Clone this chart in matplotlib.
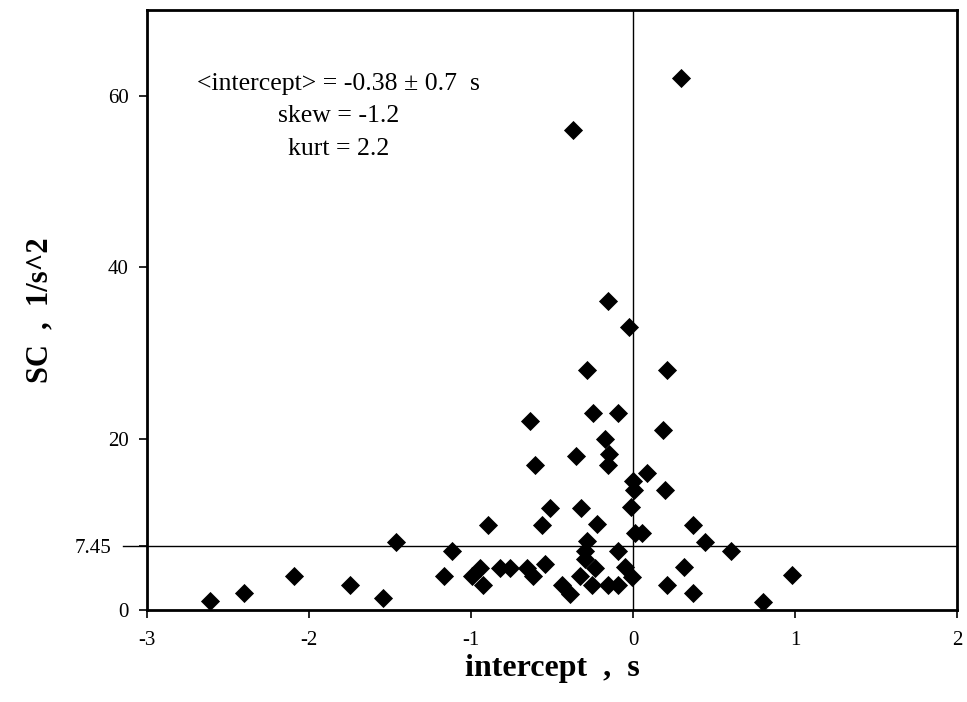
import matplotlib
matplotlib.use("Agg")
import matplotlib.pyplot as plt
from matplotlib.transforms import blended_transform_factory

# ---- data ----
intercept = [-2.61, -2.40, -2.09, -1.75, -1.545, -1.46, -1.165, -1.115, -0.995, -0.945,
             -0.925, -0.893, -0.82, -0.76, -0.655, -0.615, -0.543, -0.564, -0.512, -0.636,
             -0.603, -0.44, -0.39, -0.354, -0.33, -0.324, -0.37, -0.286, -0.296, -0.296,
             -0.286, -0.255, -0.235, -0.245, -0.224, -0.173, -0.146, -0.152, -0.152, -0.152,
             -0.095, -0.095, -0.095, -0.049, -0.025, -0.004, -0.012, 0.004, 0.002, 0.012,
             0.057, 0.085, 0.187, 0.198, 0.208, 0.208, 0.296, 0.315, 0.368, 0.368,
             0.444, 0.605, 0.80, 0.98]
sc = [1.0, 1.95, 4.0, 2.9, 1.45, 7.9, 4.0, 6.9, 4.0, 4.85,
      2.9, 9.9, 4.85, 4.85, 4.85, 4.0, 5.35, 9.9, 11.95, 22.05,
      16.95, 2.9, 1.85, 18.0, 3.95, 11.9, 56.0, 8.05, 6.9, 6.0,
      27.95, 2.9, 4.95, 22.95, 10.0, 20.0, 18.15, 16.95, 36.0, 2.9,
      2.9, 6.9, 22.95, 5.05, 33.0, 3.9, 12.0, 13.95, 15.05, 9.0,
      9.0, 16.0, 20.95, 14.0, 27.95, 2.9, 62.1, 5.05, 9.95, 1.95,
      7.9, 6.9, 0.9, 4.1]

xticks = [-3, -2, -1, 0, 1, 2]
yticks = [0, 7.45, 20, 40, 60]
ytick_labels = ["0", "7.45", "20", "40", "60"]
threshold_y = 7.45
stats_lines = ["<intercept> = -0.38 \u00b1 0.7  s", "skew = -1.2", "kurt = 2.2"]

plt.rcParams['font.family'] = ['Liberation Serif', 'DejaVu Serif']

fig = plt.figure(figsize=(9.67, 7.02), dpi=100)
ax = fig.add_axes([147/967, 92/702, 810/967, 600/702])

ax.scatter(intercept, sc, marker='D', s=95, color='black', zorder=3, linewidths=0)

ax.set_xlim(-3, 2)
ax.set_ylim(0, 70)

# reference lines
ax.axvline(0, color='black', lw=1.0, zorder=2)
trans = blended_transform_factory(ax.transAxes, ax.transData)
ax.plot([-0.030, 1.0], [threshold_y, threshold_y], color='black', lw=1.0,
        transform=trans, clip_on=False, zorder=2)

ax.set_xticks(xticks)
ax.set_xticklabels([str(v) for v in xticks])
ax.set_yticks(yticks)
ax.set_yticklabels(ytick_labels)
ax.tick_params(axis='both', direction='out', length=6, width=1.2, labelsize=15)
ax.tick_params(axis='y', pad=7)
ax.tick_params(axis='x', pad=9)
for t, v in zip(ax.yaxis.get_major_ticks(), yticks):
    if v == threshold_y:
        t.tick1line.set_markersize(0)
        t.set_pad(20)

for sp in ax.spines.values():
    sp.set_linewidth(2)

ax.set_xlabel("intercept  ,  s", fontsize=23, fontweight='bold', labelpad=3)
ax.set_ylabel("SC  ,  1/s^2", fontsize=22, fontweight='bold', labelpad=14)

ys = [61.4, 57.6, 53.8]
for line, yv in zip(stats_lines, ys):
    ax.text(-1.82, yv, line, ha='center', va='center', fontsize=18.5)

fig.savefig("out.png", dpi=100)
